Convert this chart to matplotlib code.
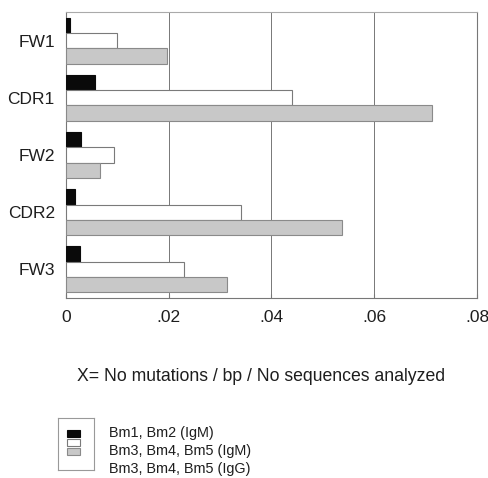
import matplotlib.pyplot as plt
from matplotlib.patches import Rectangle

plt.rcParams['font.family'] = ['Liberation Sans', 'DejaVu Sans']

# regions (top to bottom) and mutation frequencies
regions = ['FW1', 'CDR1', 'FW2', 'CDR2', 'FW3']
igm_12 = [0.0008, 0.0057, 0.0030, 0.0017, 0.0027]
igm_345 = [0.0100, 0.0439, 0.0093, 0.0341, 0.0230]
igg_345 = [0.0196, 0.0712, 0.0066, 0.0538, 0.0313]
series_names = ['Bm1, Bm2 (IgM)', 'Bm3, Bm4, Bm5 (IgM)', 'Bm3, Bm4, Bm5 (IgG)']
xticks = [0, 0.02, 0.04, 0.06, 0.08]
xticklabels = ['0', '.02', '.04', '.06', '.08']

faces = ['#0a0a0a', 'white', '#c8c8c8']
edges = ['#0a0a0a', '#7a7a7a', '#8a8a8a']
txt = '#1e1e1e'

fig = plt.figure(figsize=(4.88, 4.78), dpi=100)
ax = fig.add_axes([0.1352, 0.3766, 0.8423, 0.5983])

h = 0.268
for i, vals in enumerate([igm_12, igm_345, igg_345]):
    ys = [k + (i - 1) * h for k in range(len(regions))]
    ax.barh(ys, vals, height=h, color=faces[i], edgecolor=edges[i], linewidth=0.8, zorder=3)

ax.set_xlim(0, 0.08)
ax.set_ylim(4.5, -0.5)
ax.set_yticks(range(len(regions)))
ax.set_yticklabels(regions, fontsize=12.5, color=txt)
ax.set_xticks(xticks)
ax.set_xticklabels(xticklabels, fontsize=12.5, color=txt)
ax.tick_params(axis='y', length=0, pad=8)
ax.tick_params(axis='x', direction='in', length=3, pad=9, color='#777')
ax.grid(axis='x', color='#777', linewidth=0.7, zorder=0)
for s in ax.spines.values():
    s.set_color('#777')
    s.set_linewidth(0.8)
ax.spines['top'].set_color('#aaa')

ax.set_xlabel('X= No mutations / bp / No sequences analyzed', fontsize=12.7, color=txt, va='center')
ax.xaxis.set_label_coords(0.474, -0.276)

# legend: small framed box with swatches, labels outside the frame
lax = fig.add_axes([58 / 488, 1 - 470 / 478, 36 / 488, 52 / 478])
lax.set_xlim(0, 36)
lax.set_ylim(52, 0)
lax.set_xticks([])
lax.set_yticks([])
for s in lax.spines.values():
    s.set_color('#999')
    s.set_linewidth(0.8)
for i, name in enumerate(series_names):
    yc = 15 + i * 9
    lax.add_patch(Rectangle((9, yc - 3.5), 13, 7, facecolor=faces[i], edgecolor=edges[i], linewidth=0.8))
    fig.text(109 / 488, 1 - (433 + i * 18) / 478, name, fontsize=10.4, color=txt, va='center')

fig.savefig('out.png', dpi=100)
